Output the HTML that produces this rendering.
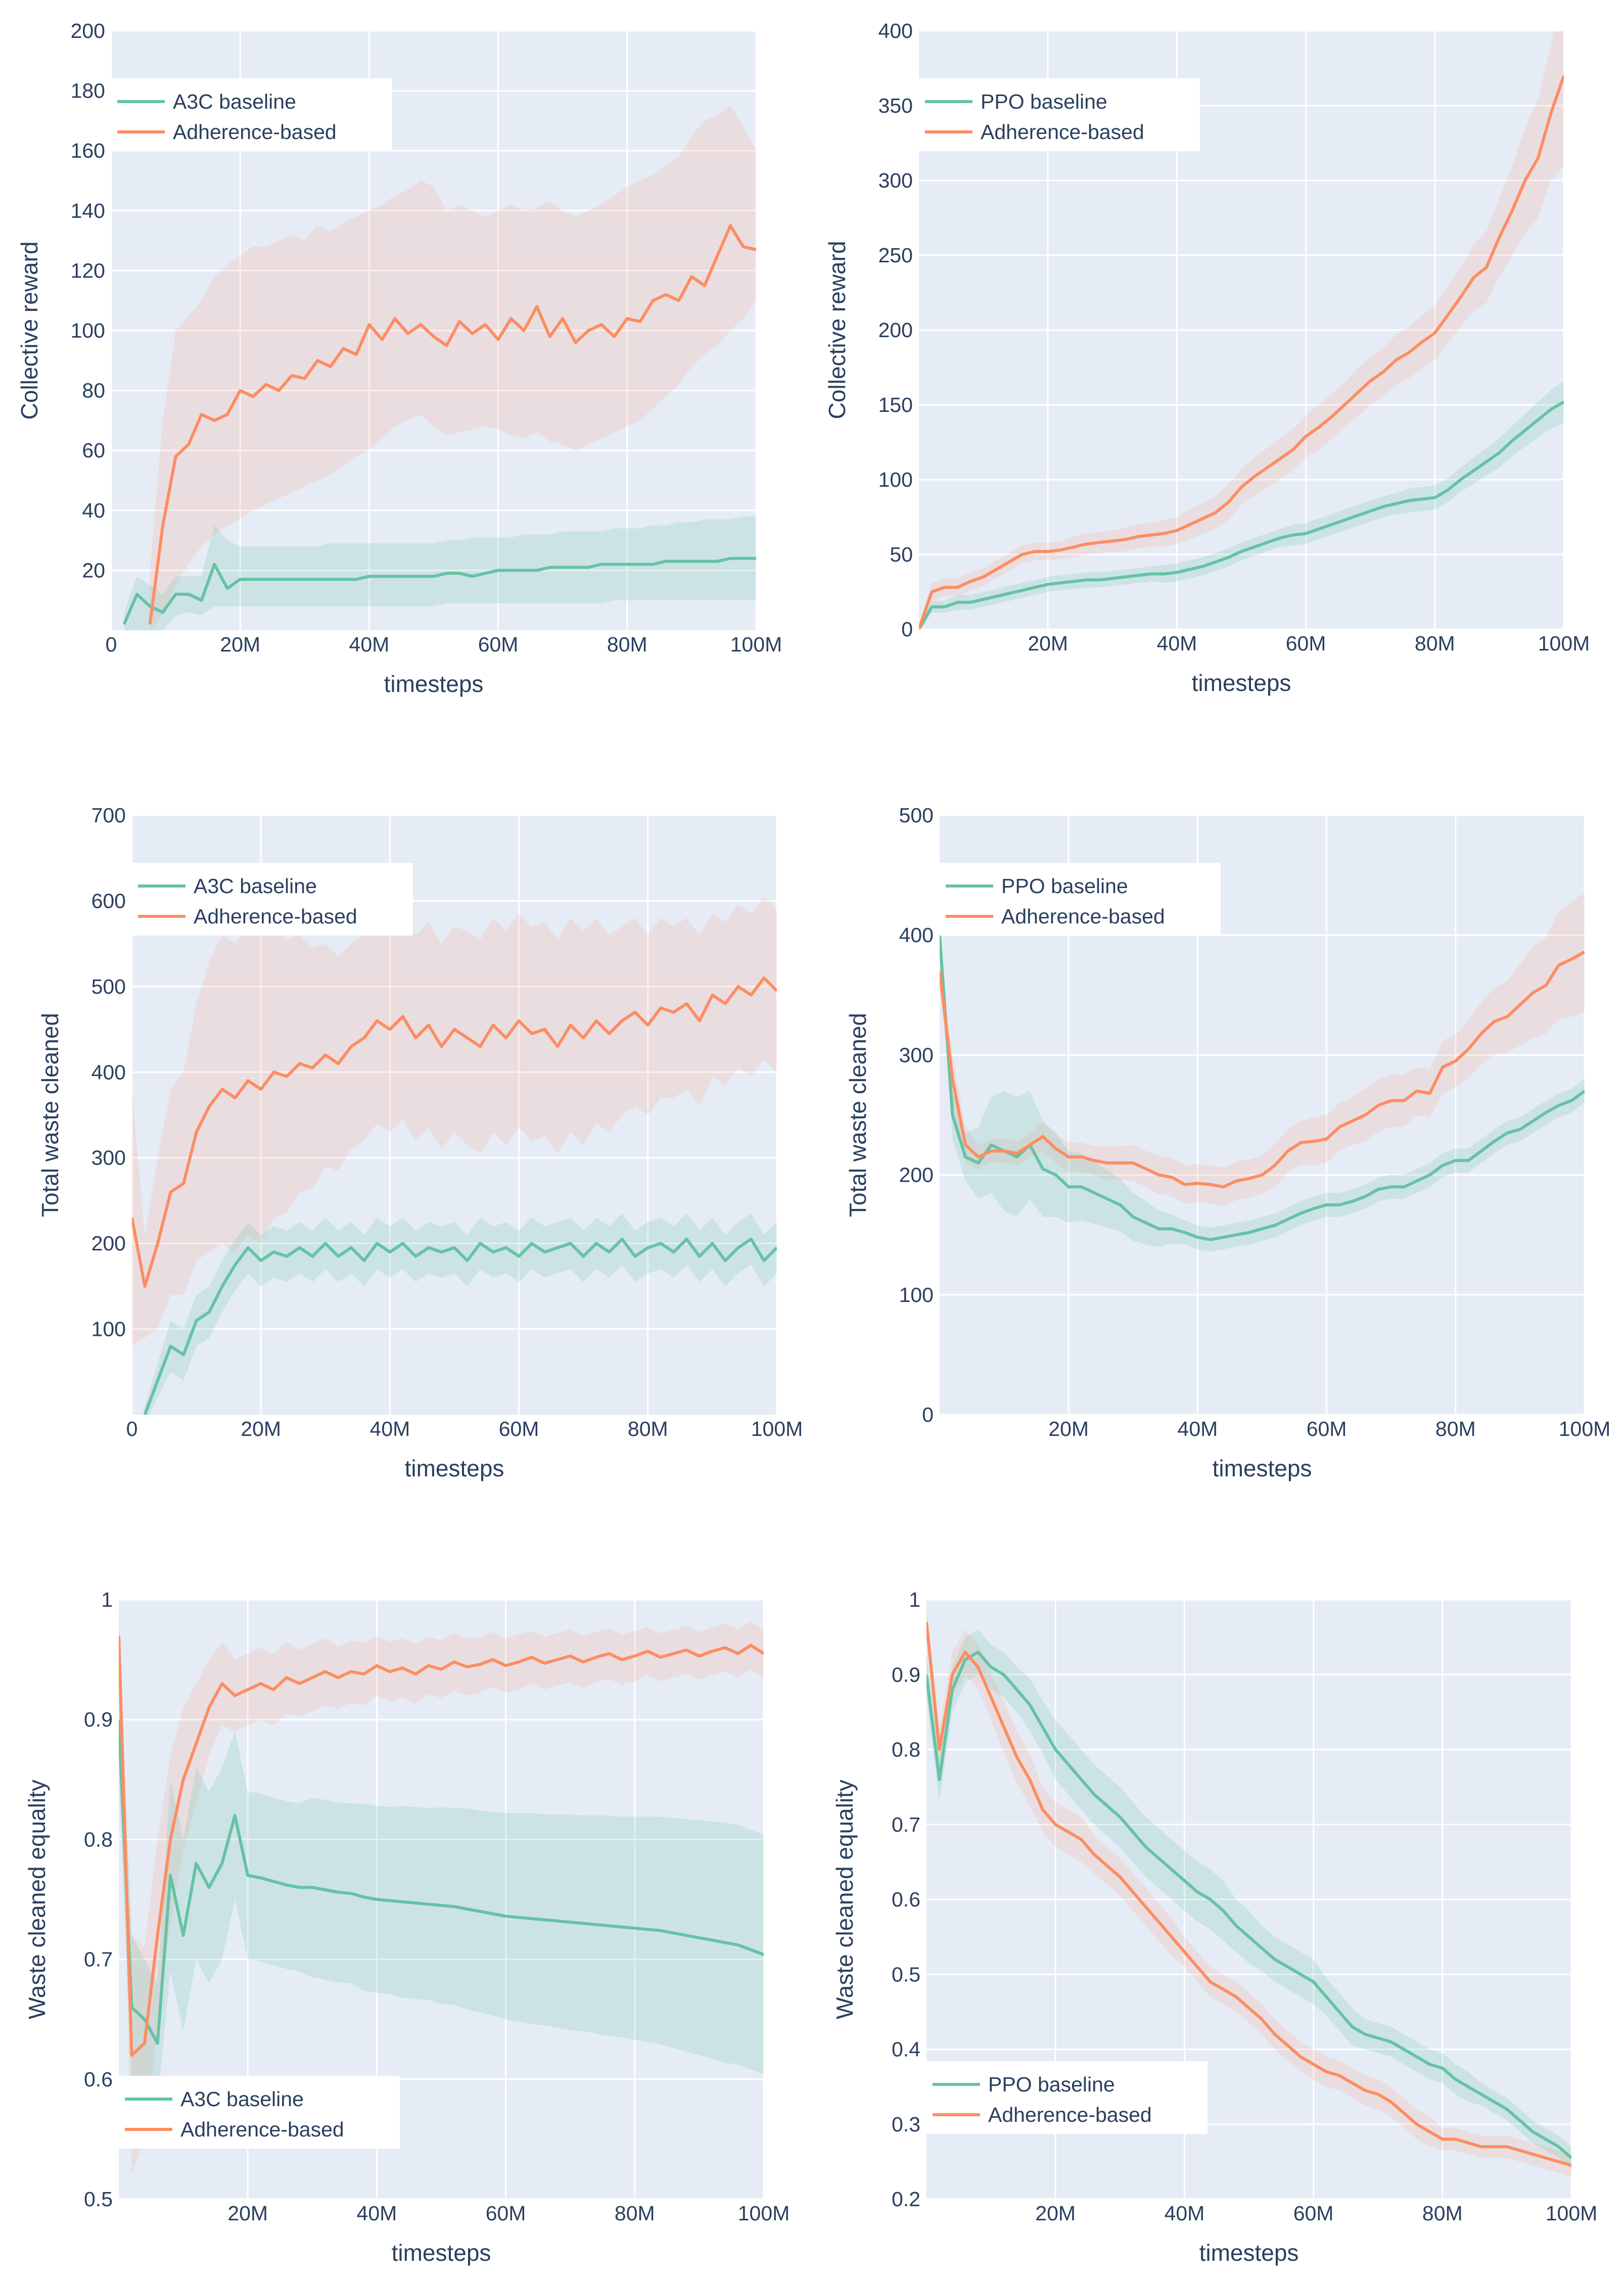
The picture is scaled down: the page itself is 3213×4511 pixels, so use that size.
<!DOCTYPE html>
<html><head><meta charset="utf-8"><style>
html,body{margin:0;padding:0;background:#fff;}
svg{display:block;font-family:"Liberation Sans",Arial,sans-serif;}
</style></head><body>
<svg id="fig" width="3213" height="4511" viewBox="0 0 3213 4511" xmlns="http://www.w3.org/2000/svg"></svg>
<script>
const xs=[0,2,4,6,8,10,12,14,16,18,20,22,24,26,28,30,32,34,36,38,40,42,44,46,48,50,52,54,56,58,60,62,64,66,68,70,72,74,76,78,80,82,84,86,88,90,92,94,96,98,100];

// Chart 1: A3C collective reward
const c1BaseMean=[null,2,12,8,6,12,12,10,22,14, 17,17,17,17,17,17,17,17,17,17, 18,18,18,18,18,18,19,19,18,19, 20,20,20,20,21,21,21,21,22,22, 22,22,22,23,23,23,23,23,24,24, 24];
const c1BaseLo=[null,0,0,0,0,5,6,5,8,8, 8,8,8,8,8,8,8,8,8,8, 8,8,8,8,8,8,9,9,9,9, 9,9,9,9,9,9,9,9,9,10, 10,10,10,10,10,10,10,10,10,10, 10];
const c1BaseHi=[null,6,18,15,12,18,18,18,35,30, 28,28,28,28,28,28,28,29,29,29, 29,29,29,29,29,29,30,30,31,31, 31,31,32,32,32,33,33,33,33,34, 34,34,35,35,36,36,37,37,37,38, 38];
const c1AdhMean=[null,null,null,2,35,58,62,72,70,72, 80,78,82,80,85,84,90,88,94,92, 102,97,104,99,102,98,95,103,99,102, 97,104,100,108,98,104,96,100,102,98, 104,103,110,112,110,118,115,125,135,128, 127];
const c1AdhLo=[null,null,null,0,5,15,22,28,32,35, 37,40,42,44,46,48,50,52,55,58, 60,64,68,70,72,68,65,66,67,68, 67,65,64,66,63,62,60,62,64,66, 68,70,74,78,82,88,92,95,100,104, 110];
const c1AdhHi=[null,null,null,20,70,100,105,110,118,122, 125,128,128,130,132,130,135,133,136,138, 140,142,145,147,150,148,140,142,140,138, 140,142,140,141,143,140,138,140,142,145, 148,150,152,155,158,165,170,172,175,168, 160];
const c1YTicks=[20,40,60,80,100,120,140,160,180,200];
const c1YLabels=["20","40","60","80","100","120","140","160","180","200"];
const c1XTicks=[0,20,40,60,80,100];
const c1XLabels=["0","20M","40M","60M","80M","100M"];

// Chart 2: PPO collective reward
const c2BaseMean=[0,15,15,18,18,20,22,24,26,28, 30,31,32,33,33,34,35,36,37,37, 38,40,42,45,48,52,55,58,61,63, 64,67,70,73,76,79,82,84,86,87, 88,93,100,106,112,118,126,133,140,147, 152];
const c2BaseSpread=[2,4,4,5,5,5,5,5,5,5, 5,5,5,5,5,5,5,5,5,6, 6,6,6,6,6,6,6,6,6,7, 7,7,7,7,7,7,7,7,8,8, 8,8,8,9,9,10,10,11,12,13, 14];
const c2AdhMean=[0,25,28,28,32,35,40,45,50,52, 52,53,55,57,58,59,60,62,63,64, 66,70,74,78,85,95,102,108,114,120, 129,135,142,150,158,166,172,180,185,192, 198,210,222,235,242,262,280,300,315,345, 370];
const c2AdhSpread=[3,6,6,6,6,6,6,6,6,6, 6,6,7,7,7,7,8,8,8,9, 9,10,10,11,12,12,13,13,14,14, 14,15,15,15,16,16,16,17,17,18, 18,19,20,22,24,26,30,35,40,45, 60];
const c2YTicks=[0,50,100,150,200,250,300,350,400];
const c2YLabels=["0","50","100","150","200","250","300","350","400"];
const c2XTicks=[20,40,60,80,100];
const c2XLabels=["20M","40M","60M","80M","100M"];

// Chart 3: A3C total waste cleaned
const c3BaseMean=[null,0,40,80,70,110,120,150,175,195, 180,190,185,195,185,200,185,195,180,200, 190,200,185,195,190,195,180,200,190,195, 185,200,190,195,200,185,200,190,205,185, 195,200,190,205,185,200,180,195,205,180, 195];
const c3BaseSpread=[null,10,20,30,30,30,30,30,30,30, 30,30,30,30,30,30,30,30,30,30, 30,30,30,30,30,30,30,30,30,30, 30,30,30,30,30,30,30,30,30,30, 30,30,30,30,30,30,30,30,30,30, 30];
const c3AdhMean=[230,150,200,260,270,330,360,380,370,390, 380,400,395,410,405,420,410,430,440,460, 450,465,440,455,430,450,440,430,455,440, 460,445,450,430,455,440,460,445,460,470, 455,475,470,480,460,490,480,500,490,510, 495];
const c3AdhSpread=[150,60,100,120,130,150,170,180,180,180, 180,170,160,150,140,130,125,120,120,120, 120,120,120,120,120,120,125,125,125,125, 125,125,125,125,125,125,120,115,110,110, 105,105,100,100,100,95,95,95,95,95, 95];
const c3YTicks=[100,200,300,400,500,600,700];
const c3YLabels=["100","200","300","400","500","600","700"];
const c3XTicks=[0,20,40,60,80,100];
const c3XLabels=["0","20M","40M","60M","80M","100M"];

// Chart 4: PPO total waste cleaned
const c4BaseMean=[400,250,215,210,225,220,215,225,205,200, 190,190,185,180,175,165,160,155,155,152, 148,146,148,150,152,155,158,163,168,172, 175,175,178,182,188,190,190,195,200,208, 212,212,220,228,235,238,245,252,258,262, 270];
const c4BaseSpread=[10,20,20,30,40,50,50,45,40,35, 30,28,26,24,22,20,18,15,12,10, 10,10,10,10,10,10,10,10,10,10, 10,10,10,10,10,10,10,10,10,10, 10,10,10,10,10,10,10,10,10,10, 10];
const c4AdhMean=[370,280,225,215,220,220,218,225,232,222, 215,215,212,210,210,210,205,200,198,192, 193,192,190,195,197,200,208,220,227,228, 230,240,245,250,258,262,262,270,268,290, 295,305,318,328,332,342,352,358,375,380, 386];
const c4AdhSpread=[10,20,15,10,10,10,10,10,12,12, 12,12,12,14,14,15,15,16,16,16, 16,16,16,16,16,16,18,18,18,20, 20,20,20,22,22,22,22,20,20,22, 22,24,26,28,30,34,38,40,45,48, 50];
const c4YTicks=[0,100,200,300,400,500];
const c4YLabels=["0","100","200","300","400","500"];
const c4XTicks=[20,40,60,80,100];
const c4XLabels=["20M","40M","60M","80M","100M"];

// Chart 5: A3C waste cleaned equality
const c5BaseMean=[0.9,0.66,0.65,0.63,0.77,0.72,0.78,0.76,0.78,0.82, 0.77,0.768,0.765,0.762,0.76,0.76,0.758,0.756,0.755,0.752, 0.75,0.749,0.748,0.747,0.746,0.745,0.744,0.742,0.74,0.738, 0.736,0.735,0.734,0.733,0.732,0.731,0.73,0.729,0.728,0.727, 0.726,0.725,0.724,0.722,0.72,0.718,0.716,0.714,0.712,0.708, 0.704];
const c5BaseSpread=[0.05,0.06,0.05,0.05,0.08,0.08,0.08,0.08,0.08,0.07, 0.07,0.07,0.07,0.07,0.07,0.075,0.075,0.075,0.075,0.078, 0.078,0.078,0.08,0.08,0.08,0.082,0.082,0.084,0.084,0.085, 0.086,0.087,0.088,0.088,0.089,0.09,0.09,0.091,0.092,0.092, 0.093,0.094,0.095,0.096,0.097,0.098,0.099,0.1,0.1,0.1, 0.1];
const c5AdhMean=[0.97,0.62,0.63,0.72,0.8,0.85,0.88,0.91,0.93,0.92, 0.925,0.93,0.925,0.935,0.93,0.935,0.94,0.935,0.94,0.938, 0.945,0.94,0.943,0.938,0.945,0.942,0.948,0.944,0.946,0.95, 0.945,0.948,0.952,0.947,0.95,0.953,0.948,0.952,0.955,0.95, 0.953,0.957,0.952,0.955,0.958,0.953,0.957,0.96,0.955,0.962, 0.955];
const c5AdhSpread=[0.02,0.1,0.08,0.08,0.07,0.06,0.05,0.04,0.035,0.03, 0.03,0.03,0.03,0.03,0.028,0.028,0.028,0.026,0.026,0.026, 0.025,0.025,0.025,0.025,0.024,0.024,0.024,0.024,0.023,0.023, 0.023,0.023,0.022,0.022,0.022,0.022,0.022,0.021,0.021,0.021, 0.021,0.02,0.02,0.02,0.02,0.02,0.02,0.02,0.02,0.02, 0.02];
const c5YTicks=[0.5,0.6,0.7,0.8,0.9,1];
const c5YLabels=["0.5","0.6","0.7","0.8","0.9","1"];
const c5XTicks=[20,40,60,80,100];
const c5XLabels=["20M","40M","60M","80M","100M"];

// Chart 6: PPO waste cleaned equality
const c6BaseMean=[0.9,0.76,0.88,0.92,0.93,0.91,0.9,0.88,0.86,0.83, 0.8,0.78,0.76,0.74,0.725,0.71,0.69,0.67,0.655,0.64, 0.625,0.61,0.6,0.585,0.565,0.55,0.535,0.52,0.51,0.5, 0.49,0.47,0.45,0.43,0.42,0.415,0.41,0.4,0.39,0.38, 0.375,0.36,0.35,0.34,0.33,0.32,0.305,0.29,0.28,0.27, 0.255];
const c6BaseSpread=[0.03,0.03,0.03,0.03,0.03,0.03,0.03,0.03,0.035,0.035, 0.04,0.04,0.04,0.04,0.04,0.04,0.04,0.04,0.04,0.04, 0.04,0.04,0.04,0.04,0.035,0.035,0.03,0.03,0.03,0.03, 0.03,0.025,0.025,0.025,0.02,0.02,0.02,0.02,0.02,0.02, 0.02,0.02,0.02,0.015,0.015,0.015,0.015,0.015,0.015,0.015, 0.015];
const c6AdhMean=[0.97,0.8,0.9,0.93,0.91,0.87,0.83,0.79,0.76,0.72, 0.7,0.69,0.68,0.66,0.645,0.63,0.61,0.59,0.57,0.55, 0.53,0.51,0.49,0.48,0.47,0.455,0.44,0.42,0.405,0.39, 0.38,0.37,0.365,0.355,0.345,0.34,0.33,0.315,0.3,0.29, 0.28,0.28,0.275,0.27,0.27,0.27,0.265,0.26,0.255,0.25, 0.245];
const c6AdhSpread=[0.02,0.03,0.03,0.03,0.03,0.03,0.035,0.035,0.035,0.03, 0.03,0.03,0.03,0.025,0.025,0.025,0.025,0.025,0.025,0.025, 0.02,0.02,0.02,0.02,0.02,0.02,0.02,0.02,0.02,0.02, 0.02,0.02,0.02,0.02,0.02,0.02,0.02,0.02,0.02,0.02, 0.015,0.015,0.015,0.015,0.015,0.015,0.015,0.015,0.015,0.015, 0.015];
const c6YTicks=[0.2,0.3,0.4,0.5,0.6,0.7,0.8,0.9,1];
const c6YLabels=["0.2","0.3","0.4","0.5","0.6","0.7","0.8","0.9","1"];
const c6XTicks=[20,40,60,80,100];
const c6XLabels=["20M","40M","60M","80M","100M"];

const NS="http://www.w3.org/2000/svg";
const fig=document.getElementById('fig');
const GREEN="#66c2a5", ORANGE="#fc8d62", TXT="#2a3f5f";
function mk(tag,attrs,parent){const e=document.createElementNS(NS,tag);for(const k in attrs)e.setAttribute(k,attrs[k]);(parent||fig).appendChild(e);return e;}
function sub(a,b){return a.map((v,i)=>v==null?null:v-b[i]);}
function add(a,b){return a.map((v,i)=>v==null?null:v+b[i]);}

const charts=[
 {id:'c1',L:220,T:61,W:1276,H:1186,ymin:0,ymax:200,yt:c1YTicks,yl:c1YLabels,xt:c1XTicks,xl:c1XLabels,title:'Collective reward',base:'A3C baseline',
  bm:c1BaseMean,blo:c1BaseLo,bhi:c1BaseHi,am:c1AdhMean,alo:c1AdhLo,ahi:c1AdhHi,lg:[220,155]},
 {id:'c2',L:1818,T:61,W:1276,H:1184,ymin:0,ymax:400,yt:c2YTicks,yl:c2YLabels,xt:c2XTicks,xl:c2XLabels,title:'Collective reward',base:'PPO baseline',
  bm:c2BaseMean,blo:sub(c2BaseMean,c2BaseSpread),bhi:add(c2BaseMean,c2BaseSpread),am:c2AdhMean,alo:sub(c2AdhMean,c2AdhSpread),ahi:add(c2AdhMean,c2AdhSpread),lg:[1818,155]},
 {id:'c3',L:261,T:1613,W:1276,H:1186,ymin:0,ymax:700,yt:c3YTicks,yl:c3YLabels,xt:c3XTicks,xl:c3XLabels,title:'Total waste cleaned',base:'A3C baseline',
  bm:c3BaseMean,blo:sub(c3BaseMean,c3BaseSpread),bhi:add(c3BaseMean,c3BaseSpread),am:c3AdhMean,alo:sub(c3AdhMean,c3AdhSpread),ahi:add(c3AdhMean,c3AdhSpread),lg:[261,1707]},
 {id:'c4',L:1859,T:1613,W:1276,H:1186,ymin:0,ymax:500,yt:c4YTicks,yl:c4YLabels,xt:c4XTicks,xl:c4XLabels,title:'Total waste cleaned',base:'PPO baseline',
  bm:c4BaseMean,blo:sub(c4BaseMean,c4BaseSpread),bhi:add(c4BaseMean,c4BaseSpread),am:c4AdhMean,alo:sub(c4AdhMean,c4AdhSpread),ahi:add(c4AdhMean,c4AdhSpread),lg:[1859,1707]},
 {id:'c5',L:235,T:3165,W:1276,H:1186,ymin:0.5,ymax:1,yt:c5YTicks,yl:c5YLabels,xt:c5XTicks,xl:c5XLabels,title:'Waste cleaned equality',base:'A3C baseline',
  bm:c5BaseMean,blo:sub(c5BaseMean,c5BaseSpread),bhi:add(c5BaseMean,c5BaseSpread),am:c5AdhMean,alo:sub(c5AdhMean,c5AdhSpread),ahi:add(c5AdhMean,c5AdhSpread),lg:[235,4107]},
 {id:'c6',L:1833,T:3165,W:1276,H:1186,ymin:0.2,ymax:1,yt:c6YTicks,yl:c6YLabels,xt:c6XTicks,xl:c6XLabels,title:'Waste cleaned equality',base:'PPO baseline',
  bm:c6BaseMean,blo:sub(c6BaseMean,c6BaseSpread),bhi:add(c6BaseMean,c6BaseSpread),am:c6AdhMean,alo:sub(c6AdhMean,c6AdhSpread),ahi:add(c6AdhMean,c6AdhSpread),lg:[1833,4078]}
];

charts.forEach(c=>{
  const xS=v=>c.L+(v-0)/(100-0)*c.W;
  const yS=v=>c.T+c.H-(v-c.ymin)/(c.ymax-c.ymin)*c.H;
  const g=mk('g',{});
  
  
  const defs=mk('defs',{},g);
  const cp=mk('clipPath',{id:c.id+'-clip'},defs);
  mk('rect',{x:c.L,y:c.T,width:c.W,height:c.H},cp);
  const bg=mk('rect',{x:c.L,y:c.T,width:c.W,height:c.H,fill:'#e5ecf6'},g);
  
  
  // grid
  c.yt.forEach((t,i)=>{
    const y=yS(t);
    const gl=mk('line',{x1:c.L,x2:c.L+c.W,y1:y,y2:y,stroke:'#fff','stroke-width':3},g);
    
    
    const tl=mk('text',{x:c.L-12,y:y+14,'text-anchor':'end','font-size':41,fill:TXT},g);
    tl.textContent=c.yl[i];
    
    
  });
  c.xt.forEach((t,i)=>{
    const x=xS(t);
    const gl=mk('line',{x1:x,x2:x,y1:c.T,y2:c.T+c.H,stroke:'#fff','stroke-width':3},g);
    
    
    const tl=mk('text',{x:x,y:c.T+c.H+42,'text-anchor':'middle','font-size':41,fill:TXT},g);
    tl.textContent=c.xl[i];
    
    
  });
  const pg=mk('g',{'clip-path':'url(#'+c.id+'-clip)'},g);
  function band(lo,hi,color,op,name){
    const pts=[];const back=[];
    xs.forEach((x,i)=>{if(lo[i]!=null&&hi[i]!=null){pts.push(xS(x).toFixed(1)+','+yS(hi[i]).toFixed(1));back.unshift(xS(x).toFixed(1)+','+yS(lo[i]).toFixed(1));}});
    const p=mk('polygon',{points:pts.concat(back).join(' '),fill:color,'fill-opacity':op},pg);
    
    
  }
  function line(m,color,name){
    const pts=[];
    xs.forEach((x,i)=>{if(m[i]!=null)pts.push(xS(x).toFixed(1)+','+yS(m[i]).toFixed(1));});
    const p=mk('polyline',{points:pts.join(' '),fill:'none',stroke:color,'stroke-width':6,'stroke-linejoin':'round'},pg);
    
    
  }
  band(c.alo,c.ahi,ORANGE,0.15,c.id+'-adherence-band');
  band(c.blo,c.bhi,GREEN,0.2,c.id+'-baseline-band');
  line(c.bm,GREEN,c.id+'-baseline-line');
  line(c.am,ORANGE,c.id+'-adherence-line');
  // titles
  const yt=mk('text',{x:0,y:0,'text-anchor':'middle','font-size':46,fill:TXT,transform:'translate('+(c.L-146)+','+(c.T+c.H/2)+') rotate(-90)'},g);
  yt.textContent=c.title;
  
  
  const xt=mk('text',{x:c.L+c.W/2,y:c.T+c.H+122,'text-anchor':'middle','font-size':46,fill:TXT},g);
  xt.textContent='timesteps';
  
  
  // legend
  const lx=c.lg[0], ly=c.lg[1];
  const lgG=mk('g',{},g);
  
  
  mk('rect',{x:lx,y:ly,width:556,height:144,fill:'#fff'},lgG);
  [[c.base,GREEN,46],['Adherence-based',ORANGE,106]].forEach((e,k)=>{
    const eg=mk('g',{},lgG);
    
    
    mk('line',{x1:lx+12,x2:lx+106,y1:ly+e[2],y2:ly+e[2],stroke:e[1],'stroke-width':6},eg);
    const t=mk('text',{x:lx+122,y:ly+e[2]+14,'font-size':41,fill:TXT},eg);
    t.textContent=e[0];
  });
});
</script>
</body></html>
